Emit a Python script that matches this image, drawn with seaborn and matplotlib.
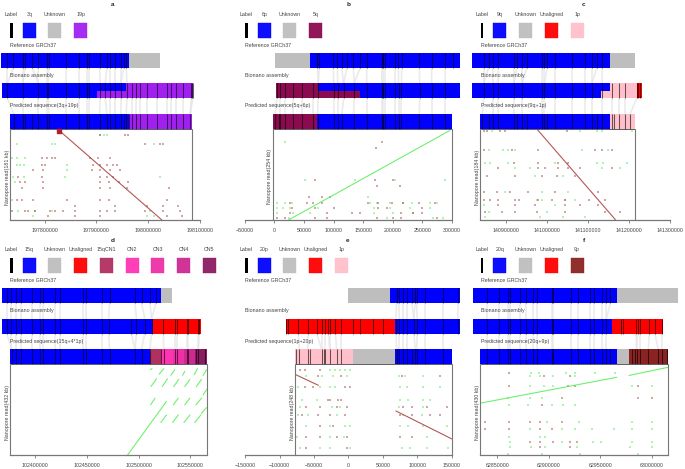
import numpy as np
import pandas as pd
import matplotlib
matplotlib.use('Agg')
import matplotlib.pyplot as plt
from matplotlib.patches import Rectangle
import seaborn as sns

sns.set_theme(style='white')
plt.rcParams['font.family'] = ['Liberation Sans', 'DejaVu Sans']

# all x values are kb, counted from the origin of each panel
colors = {'3q': '#0000FF', '6p': '#0000FF', '9q': '#0000FF', '15q': '#0000FF', '20p': '#0000FF', '20q': '#0000FF',
          'Unknown': '#BEBEBE', 'Unaligned': '#FF0000', '19p': '#A020F0', '5q': '#8B0A50', '1p': '#FFC0CB',
          '9p': '#8B2323', '15qCN1': '#B03060', 'CN2': '#FF34B3', 'CN3': '#EE30A7', 'CN4': '#CD2990', 'CN5': '#8B1C62'}

# panel a
a_legend = ['3q', 'Unknown', '19p']
a_ticks = [0, 100, 200, 300]
a_ref = [('3q', -84.8, 162.4), ('Unknown', 162.4, 222.6)]
a_bio = [('3q', -83.5, 157.9), ('19p', 157.9, 287.3)]
a_bio_low = [('19p', 102.2, 157.9)]
a_pred = [('3q', -67.3, 162.4), ('19p', 162.4, 285.3)]
a_ref_lab = [-72.5, -60.8, -42.7, -38.2, -23.9, -12.3, 3.9, 7.8, 41.4, 66.6, 82.8, 86.7, 106.1, 120.3, 126.8, 136.5,
             147.5, 152.7, 157.9]
a_bio_lab = [-72.5, -42.7, -12.3, 3.9, 7.1, 41.4, 66.6, 82.8, 86.7, 107.4, 117.1, 126.8, 136.5, 147.5, 159.2, 168.9,
             177.3, 185, 198, 217.4, 236.8, 244.6, 254.3, 267.9, 284, 285.3, 286.5]
a_pred_lab = [-59.5, -42.7, -38.2, -23.9, -12.3, 3.9, 7.8, 41.4, 66.6, 82.8, 86.7, 106.1, 120.3, 126.8, 136.5, 147.5,
              152.7, 157.9, 162.4, 168.9, 177.3, 185, 198, 217.4, 236.8, 244.6, 254.3, 267.9, 282]
a_green = {170: [107, 114, 120], 152: [-54, 14, 20, 211], 123: [-64, -54, -38], 110: [-67, -54, -48, -41, 43],
           100: [43], 86: [-61, -41, 39, 224], 76: [-58], 40: [-64], 17: [-51, -19, 14, 204], 7: [-22, 198, 211]}
a_red = {170: [107, 156, 162], 152: [195, 224, 230], 123: [-6, 4, 14, 20, 88, 104, 127],
         110: [-6, 1, 94, 107, 120, 133, 140], 100: [-22, -3, 91, 107, 127, 146], 86: [-51, -6, 107, 120, 133],
         76: [-48, -38, -3, 107, 124, 143, 162], 63: [-45, -3, 107, 127, 159, 240],
         40: [-54, -45, -22, 43, 107, 124, 237], 27: [59, 137, 198, 230, 259],
         17: [-64, -38, -32, -19, 10, 20, 36, 59, 107, 120, 137, 195, 230, 263], 7: [-67, 7, 59, 107, 237, 266]}
a_lines = [([28, 227], [178, 0], 'red')]

# panel b
b_legend = ['6p', 'Unknown', '5q']
b_ticks = [-50, 0, 50, 100, 150, 200, 250, 300]
b_ref = [('Unknown', 0.6, 60), ('6p', 60, 314)]
b_bio = [('5q', 2, 74.5), ('6p', 74.5, 314)]
b_bio_low = [('5q', 74.5, 145)]
b_pred = [('5q', -3, 72), ('6p', 72, 300)]
b_ref_lab = [72.8, 76.1, 99.8, 106.6, 113.9, 122.4, 133.7, 145, 156.2, 181.6, 184.4, 187.2, 204.2, 209.8, 215.4,
             245.3, 266.2, 288.8, 301.7]
b_bio_lab = [4, 10, 18, 32, 46, 65, 74, 100, 107, 117, 135, 156, 182, 184, 187, 204, 210, 215, 246, 266, 289]
b_pred_lab = [1, 7, 10, 18, 32, 46, 65, 73, 100, 107, 114, 134, 156, 182, 184, 187, 204, 210, 215, 245, 266, 289]
b_green = {219: [17], 112: [52, 136, 204, 289], 65: [159],
           47: [4, 18, 29, 162, 173, 196, 218, 232, 263, 275], 33: [4, 15, 27, 74, 168, 196, 230, 263],
           19: [4, 32, 60, 168, 201, 235], 5: [24, 190, 269, 286]}
b_red = {219: [182], 200: [172], 112: [69, 170, 201], 95: [173, 213], 65: [58, 80, 94],
         47: [27, 55, 66, 80, 159, 176, 199, 218, 244, 272], 33: [29, 69, 100, 176, 190, 249],
         19: [27, 89, 131, 145, 215, 235, 249], 5: [4, 18, 69, 89, 173, 201, 215, 275]}
b_lines = [([23.7, 297], [0, 250], 'green')]

# panel c
c_legend = ['9q', 'Unknown', 'Unaligned', '1p']
c_ticks = [0, 100, 200, 300, 400]
c_ref = [('9q', -81, 253.5), ('Unknown', 253.5, 314)]
c_bio = [('9q', -81, 253.5), ('1p', 253.5, 318), ('Unaligned', 318, 330)]
c_bio_low = [('1p', 231.5, 253.5)]
c_pred = [('9q', -62, 253.5), ('1p', 253.5, 314)]
c_ref_lab = [-54, -42, -30, -19, 19, 27, 39, 51, 89, 94, 100, 120, 160, 193, 209, 221, 233]
c_bio_lab = [-54, -30, -19, 19, 39, 89, 94, 120, 160, 193, 209, 233, 258, 274, 290, 318, 322, 326]
c_pred_lab = [-57, -42, -30, -19, 19, 27, 39, 51, 89, 94, 100, 120, 160, 193, 209, 221, 233, 258, 262, 274, 290, 302]
c_green = {179: [-34, 181, 221, 233, 306], 142: [-42, -6, 6, 23, 185, 249], 115: [-50, -38, 6, 120, 221, 237, 294],
           105: [23, 59, 233, 278], 88: [71, 140], 57: [-2, 87, 152], 41: [75, 87, 144, 168], 30: [-54, 120],
           17: [-42, 100], 7: [-50, 83, 140, 193]}
c_red = {179: [-54, -46, -14, -2, 148], 142: [-54, 15, 79, 217, 233, 258], 115: [19, 79, 128, 152],
         105: [-18, 79, 96, 128, 152, 181, 258], 88: [-46, 23, 87, 124, 168], 57: [-54, -22, 11, 55, 120, 225],
         41: [-54, -38, -18, 23, 31, 79, 112, 144, 201, 241], 30: [-18, 23, 71, 144, 181, 225],
         17: [-50, -10, 23, 75, 144, 241, 278]}
c_lines = [([77, 267], [182.5, 0], 'red')]

# panel d
d_legend = ['15q', 'Unknown', 'Unaligned', '15qCN1', 'CN2', 'CN3', 'CN4', 'CN5']
d_ticks = [0, 50, 100, 150]
d_ref = [('15q', -32.6, 121.6), ('Unknown', 121.6, 132)]
d_bio = [('15q', -32.6, 114), ('Unaligned', 114, 160)]
d_bio_low = []
d_pred = [('15q', -24.5, 111), ('15qCN1', 111, 122), ('CN2', 122, 133.5), ('CN3', 133.5, 144), ('CN4', 144, 155),
          ('CN5', 155, 166)]
d_ref_lab = [-27.7, -24, -19, -14, -3, 4.5, 7.7, 19, 24, 46.5, 49, 65, 72, 96.5, 103, 111, 117]
d_bio_lab = [-27.7, -24, -19, -14, -3, 4.5, 7.7, 19, 24, 46.5, 49, 65, 71, 93, 98, 106, 112.6, 124, 135, 137, 146.5,
             148, 158, 159]
d_pred_lab = [-23, -19, -14, -3, 4.5, 7.7, 19, 24, 46.5, 49, 65, 72, 96.5, 103, 111, 122, 124.5, 135, 137, 146.5, 148,
              156, 158, 164]
d_green = {}
d_red = {}
d_lines = [([89.4, 127], [0, 254], 'green'), ([111.5, 113], [405, 410], 'green'), ([120, 124.5], [384, 410], 'green'),
           ([131.3, 135], [378, 405], 'green'), ([142.6, 144.8], [378, 397], 'green'),
           ([153.9, 157], [381, 410], 'green'), ([162.6, 165.8], [378, 405], 'green'),
           ([112, 117.4], [325, 362], 'green'), ([123, 128], [325, 362], 'green'), ([134, 139], [325, 359], 'green'),
           ([144.8, 149.7], [325, 359], 'green'), ([156, 161], [325, 359], 'green'),
           ([111.6, 116], [238, 270], 'green'), ([133.6, 138.4], [238, 270], 'green'),
           ([144.8, 149.7], [238, 270], 'green'), ([155.5, 161], [238, 270], 'green'),
           ([162.6, 165.8], [286, 310], 'green'), ([121.6, 127], [154, 190], 'green'),
           ([133, 138.4], [154, 190], 'green'), ([144, 149.7], [154, 190], 'green'),
           ([154.5, 160.3], [154, 190], 'green'), ([161, 165.8], [198, 225], 'green')]

# panel e
e_legend = ['20p', 'Unknown', 'Unaligned', '1p']
e_ticks = [-150, -100, -50, 0, 50, 100, 150]
e_ref = [('Unknown', 0, 60.6), ('20p', 60.6, 162)]
e_bio = [('Unaligned', -90.6, 68), ('20p', 68, 162)]
e_bio_low = []
e_pred = [('1p', -77.5, 6), ('Unknown', 6, 68), ('20p', 68, 150)]
e_ref_lab = [70, 73, 80, 85, 92, 97, 99, 111, 138, 159]
e_bio_lab = [-90, -87, -73, -58, -46, -39, -34, -29, -27, -19, -10, 6, 17, 36, 50, 69, 73, 80, 85, 95, 100, 111, 138,
             159]
e_pred_lab = [-76.6, -71, -58, -56, -39, -36, -34, -27, -17, -10, 70, 73, 80, 85, 92, 97, 99, 111, 138]
e_green = {233: [-27, -19, -12, -5, 2], 214: [-61, -39, -22, -2, 73, 82, 109],
           184: [-73, -41, -27, -19, 75, 85, 109, 133], 150: [-68, -46, 75, 87, 109, 119],
           132: [-70, -24, -12, 73, 109], 109: [-73, -58, -17, 80, 107],
           78: [-61, -27, -5, 2, 75, 87, 109, 143], 48: [-75, -27, -7, 114],
           18: [-70, -41, -27, 2, 78, 90, 114, 145]}
e_red = {233: [-70, -63, -41], 214: [-44, -10, 78, 133], 184: [-63, -51, -5, 2],
         150: [-29, -27, -15, -10], 132: [-61, -41, -17, -2, 80, 92, 114, 143],
         109: [-68, -44, -27, -5, 75, 92, 119, 133], 78: [-41, -22],
         48: [-61, -41, -17, -2, 75, 92], 18: [-61, -2]}
e_lines = [([-76.6, -43.6], [219, 190], 'red'), ([69, 150], [120, 44], 'red')]

# panel f
f_legend = ['20q', 'Unknown', 'Unaligned', '9p']
f_ticks = [0, 50, 100, 150]
f_ref = [('20q', -24, 116), ('Unknown', 116, 176)]
f_bio = [('20q', -24, 111), ('Unaligned', 111, 161)]
f_bio_low = []
f_pred = [('20q', -16.5, 116), ('Unknown', 116, 128), ('9p', 128, 165.6)]
f_ref_lab = [-9.7, 1.6, 10.7, 12.3, 22, 27.5, 35, 39, 52.8, 54.4, 72, 78.7, 90, 94, 101.4, 106, 110]
f_bio_lab = [-9.7, 1.6, 10.7, 12.3, 22, 27.5, 35, 39, 52.8, 54.4, 72, 78.7, 90, 94, 101.4, 106, 120, 122.5, 134.8,
             136.4, 138.7, 147.7, 153, 160]
f_pred_lab = [-9.7, 1.6, 10.7, 12.3, 22, 27.5, 35, 39, 52.8, 54.4, 72, 78.7, 90, 94, 101.4, 106, 110, 130.6, 133.8,
              135.4, 138.7, 146.8, 156.5, 159.7, 164.6]
f_green = {387: [33, 41, 67, 75.5, 95, 114], 371: [32, 41.5, 54, 75.5], 324: [32, 45, 54, 130.6, 150],
           269: [10.7, 32, 43], 237: [11.3, 30, 53, 64, 75.5], 158: [48, 79, 130.6, 150],
           122: [32, 62.5, 75.5, 92, 113, 130.6, 150], 87: [11.3, 41.5, 46],
           63: [12.3, 62.5, 93, 101, 130.6, 150], 40: [12.3, 33, 46, 77, 129, 150], 5: [10.7, 43, 80, 137]}
f_red = {387: [11.3], 371: [45, 70.6], 324: [11.3, 69, 75.5, 137], 269: [62.5, 137, 150], 237: [43],
         158: [-12, 11.3, 32, 41.5, 62.5], 122: [-12, 11.3, 41.5, 53], 63: [32, 41.5, 54, 70.6, 77], 40: [41.5, 70.6]}
f_lines = [([-16.5, 116], [245, 367], 'green'), ([128, 165.6], [376, 414], 'green')]

TEXT = '#444444'
BOX = '#777777'
GREEN = '#55EE55'
RED = '#A83A3A'

fig = plt.figure(figsize=(6.85, 4.69), dpi=100)
page = fig.add_axes([0, 0, 1, 1], zorder=5)
page.set_xlim(0, 685)
page.set_ylim(469, 0)
page.axis('off')
page.patch.set_alpha(0)


def rows_to_df(rows):
    pts = [(x, y) for y, xs in rows.items() for x in xs]
    return pd.DataFrame(pts, columns=['x', 'y'])


def add_axes_px(left, right, top, bottom):
    return fig.add_axes([left / 685, 1 - bottom / 469, (right - left) / 685, (bottom - top) / 469])


def draw_track(ax, segs, labels, top, height=15):
    for name, start, end in segs:
        ax.barh(top + height / 2, end - start, left=start, height=height, color=colors[name], linewidth=0,
                clip_on=False, zorder=2)
    ax.vlines(labels, top, top + height, color='black', lw=0.75, alpha=0.6, clip_on=False, zorder=3)


def draw_links(ax, upper, lower, y0, y1, tol):
    lower = np.array(lower)
    for u in upper:
        near = lower[np.argmin(np.abs(lower - u))]
        if abs(near - u) < tol:
            ax.plot([u, near], [y0, y1], color='#E6E6E6', lw=1.2, alpha=0.8, clip_on=False, zorder=1,
                    solid_capstyle='butt')


def draw_panel(letter, col, row, origin, box, height, legend, title, ticks, ref, bio, bio_low, pred, ref_lab, bio_lab,
               pred_lab, green, red, lines):
    dy = 235 * row
    box_px = [(10, 192), (272.7, 451.7), (480.3, 635)][col]
    if letter == 'd':
        box_px = (10, 206.7)
    elif letter == 'e':
        box_px = (295, 451.7)
    elif letter == 'f':
        box_px = (480.3, 667.7)
    scale = (box_px[1] - box_px[0]) / (box[1] - box[0])
    lo = min(box[0], ticks[0])
    hi = max(box[1], ticks[-1])
    left = box_px[0] - (box[0] - lo) * scale
    right = box_px[1] + (hi - box[1]) * scale

    # tracks share the x scale of the dot plot
    tr = add_axes_px(left, right, dy, 129 + dy)
    tr.set_xlim(lo, hi)
    tr.set_ylim(129, 0)
    tr.axis('off')
    tr.patch.set_alpha(0)
    tol = 7 / scale
    draw_links(tr, ref_lab, bio_lab, 68, 83.5, tol)
    draw_links(tr, bio_lab, pred_lab, 98.5, 114, tol)
    draw_track(tr, ref, ref_lab, 53)
    draw_track(tr, bio, bio_lab, 83.5)
    for name, start, end in bio_low:
        tr.barh(94.75, end - start, left=start, height=7.5, color=colors[name], linewidth=0, clip_on=False, zorder=2)
    draw_track(tr, pred, pred_lab, 114)

    ax = add_axes_px(left, right, 129 + dy, 220 + dy)
    ax.patch.set_alpha(0)
    if green:
        sns.scatterplot(data=rows_to_df(green), x='x', y='y', color='#22DD22', s=0.7, marker='s', alpha=0.35,
                        linewidth=0, ax=ax, legend=False)
    if red:
        sns.scatterplot(data=rows_to_df(red), x='x', y='y', color='#8B2323', s=0.7, marker='s', alpha=0.4,
                        linewidth=0, ax=ax, legend=False)
    for xs, ys, kind in lines:
        line_df = pd.DataFrame({'x': xs, 'y': ys})
        sns.lineplot(data=line_df, x='x', y='y', color=GREEN if kind == 'green' else RED, lw=0.8, alpha=0.85,
                     estimator=None, sort=False, ax=ax, legend=False)
    if letter == 'a':
        ax.scatter([lines[0][0][0]], [lines[0][1][0]], marker='s', s=5, color='#B22222', zorder=4, clip_on=False)
    ax.set_xlim(lo, hi)
    ax.set_ylim(0, height)
    ax.set_xlabel('')
    ax.set_ylabel('')
    ax.set_yticks([])
    ax.set_xticks(ticks)
    ax.set_xticklabels([str(int((origin + t) * 1000)).replace('-', '\u2212') for t in ticks], fontsize=3.8,
                       color=TEXT)
    ax.tick_params(axis='x', bottom=True, length=2, width=0.6, color=BOX, pad=3.4)
    for side in ['top', 'left', 'right']:
        ax.spines[side].set_visible(False)
    ax.spines['bottom'].set_bounds(lo, hi)
    ax.spines['bottom'].set_color(BOX)
    ax.spines['bottom'].set_linewidth(0.9)
    ax.vlines(box, 0, height, color=BOX, lw=0.8, clip_on=False)
    ax.hlines(height, box[0], box[1], color='#444444', lw=0.6, clip_on=False)

    # legend and titles, placed on the page
    x0 = [11.3, 246.3, 482][col]
    page.text([113, 348, 584][col], 5 + dy, letter, fontsize=4.6, fontweight='bold', color='#222222', ha='center',
              va='center')
    page.text(x0, 14.7 + dy, 'Label', fontsize=3.8, color=TEXT, ha='center', va='center')
    page.add_patch(Rectangle((x0 - 1.2, 23 + dy), 2.4, 15, color='black', lw=0))
    for i, name in enumerate(legend):
        cx = x0 + 18 + 25.7 * i
        page.text(cx, 14.2 + dy, name, fontsize=3.8, color=TEXT, ha='center', va='center')
        page.add_patch(Rectangle((cx - 6.5, 23 + dy), 13, 15, facecolor=colors[name], edgecolor=colors[name], lw=0.3,
                                 alpha=0.95))
    tx = [10, 245.3, 480.7][col]
    page.text(tx, 45.3 + dy, 'Reference GRCh37', fontsize=3.8, color=TEXT, ha='left', va='center')
    page.text(tx, 75.6 + dy, 'Bionano assembly', fontsize=3.8, color=TEXT, ha='left', va='center')
    page.text(tx, 106 + dy, title, fontsize=3.8, color=TEXT, ha='left', va='center')
    page.text(box_px[0] - 2.8, 177 + dy, f'Nanopore read({height} kb)', fontsize=3.8, color=TEXT, rotation=90,
              ha='center', va='center')


draw_panel('a', 0, 0, 197800, (-67.3, 285.3), 181, a_legend, 'Predicted sequence(3q+19p)', a_ticks, a_ref, a_bio,
           a_bio_low, a_pred, a_ref_lab, a_bio_lab, a_pred_lab, a_green, a_red, a_lines)
draw_panel('b', 1, 0, 0, (-3, 300), 254, b_legend, 'Predicted sequence(5q+6p)', b_ticks, b_ref, b_bio,
           b_bio_low, b_pred, b_ref_lab, b_bio_lab, b_pred_lab, b_green, b_red, b_lines)
draw_panel('c', 2, 0, 140900, (-62, 314), 184, c_legend, 'Predicted sequence(9q+1p)', c_ticks, c_ref, c_bio,
           c_bio_low, c_pred, c_ref_lab, c_bio_lab, c_pred_lab, c_green, c_red, c_lines)
draw_panel('d', 0, 1, 102400, (-24.5, 166), 432, d_legend, 'Predicted sequence(15q+4*1p)', d_ticks, d_ref, d_bio,
           d_bio_low, d_pred, d_ref_lab, d_bio_lab, d_pred_lab, d_green, d_red, d_lines)
draw_panel('e', 1, 1, 0, (-77.5, 150), 248, e_legend, 'Predicted sequence(1p+20p)', e_ticks, e_ref, e_bio,
           e_bio_low, e_pred, e_ref_lab, e_bio_lab, e_pred_lab, e_green, e_red, e_lines)
draw_panel('f', 2, 1, 62850, (-16.5, 165.6), 430, f_legend, 'Predicted sequence(20q+9p)', f_ticks, f_ref, f_bio,
           f_bio_low, f_pred, f_ref_lab, f_bio_lab, f_pred_lab, f_green, f_red, f_lines)

fig.savefig('out.png', dpi=100)
